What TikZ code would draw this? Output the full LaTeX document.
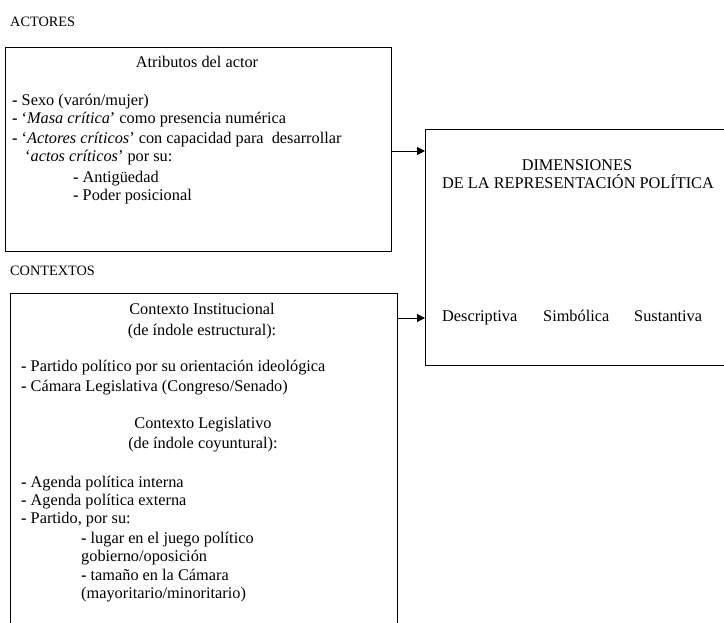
\documentclass[tikz,border=0pt]{standalone}
\usepackage{fontspec}
\setmainfont{Liberation Serif}
\usetikzlibrary{arrows.meta,calc}
\newcommand{\dsh}{\textbf{-}}
\begin{document}
\begin{tikzpicture}[x=1pt,y=-1pt,
  txt/.style={anchor=base west,inner sep=0pt,font=\fontsize{16.3}{18}\selectfont},
  ctxt/.style={anchor=base,inner sep=0pt,font=\fontsize{16.3}{18}\selectfont},
  lbl/.style={anchor=base west,inner sep=0pt,font=\fontsize{14.3}{16}\selectfont},
  box/.style={inner sep=0pt,anchor=north west},
  arr/.style={-{Triangle[length=8pt,width=8pt]},line width=0.8pt},
  edge/.style={line width=0.8pt}]
\useasboundingbox (0,0) rectangle (724,623);
% labels
\node[lbl] (lact) at (10,27) {ACTORES};
\node[lbl] (lctx) at (10,276) {CONTEXTOS};
% box 1
\node[box,draw,line width=0.8pt,minimum width=386pt,minimum height=204pt] (b1) at (5,47) {};
\node[ctxt] (t1) at (197,68) {Atributos del actor};
\node[txt] (t1a) at (12,106) {\dsh{} Sexo (varón/mujer)};
\node[txt] (t1b) at (12,124) {\dsh{} ‘\textit{Masa crítica}’ como presencia numérica};
\node[txt] (t1c) at (12,144) {\dsh{} ‘\textit{Actores críticos}’ con capacidad para\ \ desarrollar};
\node[txt] (t1d) at (25,162) {‘\textit{actos críticos}’ por su:};
\node[txt] (t1e) at (73,183) {\dsh{} Antigüedad};
\node[txt] (t1f) at (73,201) {\dsh{} Poder posicional};
% box 2 (open bottom)
\node[box,minimum width=387pt,minimum height=340pt] (b2) at (10,293) {};
\draw[edge] (b2.south west) -- (b2.north west) -- (b2.north east) -- (b2.south east);
\node[ctxt] (t2a) at (202,315) {Contexto Institucional};
\node[ctxt] (t2b) at (202,335) {(de índole estructural):};
\node[txt] (t2c) at (21,371) {\dsh{} Partido político por su orientación ideológica};
\node[txt] (t2d) at (21,391) {\dsh{} Cámara Legislativa (Congreso/Senado)};
\node[ctxt] (t2e) at (203,428) {Contexto Legislativo};
\node[ctxt] (t2f) at (203,448) {(de índole coyuntural):};
\node[txt] (t2g) at (21,487) {\dsh{} Agenda política interna};
\node[txt] (t2h) at (21,505) {\dsh{} Agenda política externa};
\node[txt] (t2i) at (21,523) {\dsh{} Partido, por su:};
\node[txt] (t2j) at (81,543) {\dsh{} lugar en el juego político};
\node[txt] (t2k) at (81,561) {gobierno/oposición};
\node[txt] (t2l) at (81,580) {\dsh{} tamaño en la Cámara};
\node[txt] (t2m) at (81,598) {(mayoritario/minoritario)};
% box 3 (open right)
\node[box,minimum width=310pt,minimum height=236pt] (b3) at (425,129) {};
\draw[edge] (b3.north east) -- (b3.north west) -- (b3.south west) -- (b3.south east);
\node[ctxt] (t3a) at (577,171) {DIMENSIONES};
\node[ctxt] (t3b) at (578,189) {DE LA REPRESENTACIÓN POLÍTICA};
\node[txt] (t3c) at (442,321) {Descriptiva};
\node[txt] (t3d) at (543,321) {Simbólica};
\node[txt] (t3e) at (634,321) {Sustantiva};
% arrows
\coordinate (a1) at (391,151);
\coordinate (a2) at (397,318);
\draw[arr] (a1) -- (a1 -| b3.west);
\draw[arr] (a2) -- (a2 -| b3.west);
\end{tikzpicture}
\end{document}
